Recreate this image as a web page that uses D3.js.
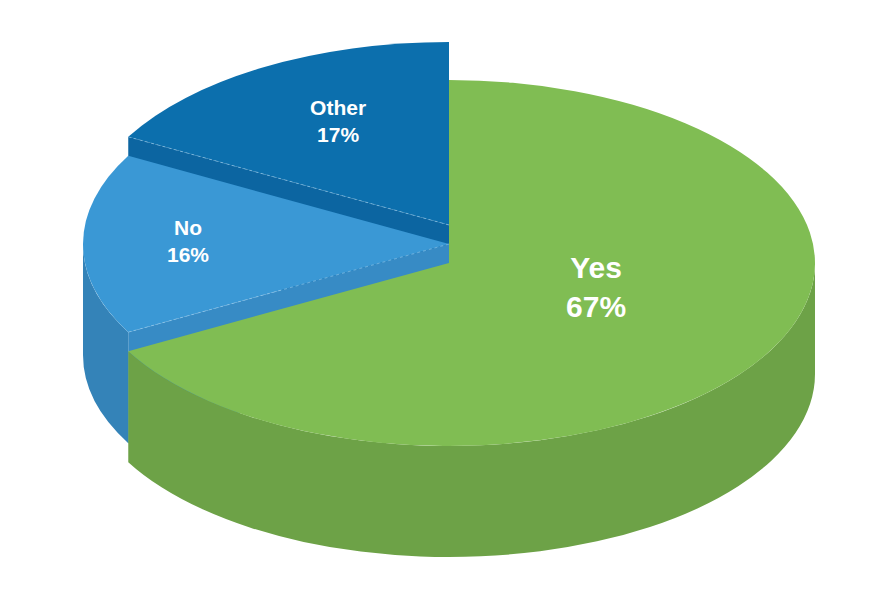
<!DOCTYPE html>
<html>
<head>
<meta charset="utf-8">
<script src="https://cdn.jsdelivr.net/npm/d3@7"></script>
<style>
  html, body { margin: 0; padding: 0; background: #ffffff; }
  svg { display: block; }
</style>
</head>
<body>
<svg id="chart" width="870" height="600"></svg>
<script>
// ---- data ----
const categories = ["Yes", "No", "Other"];
const values = [67, 16, 17];
const percentLabels = ["67%", "16%", "17%"];

// ---- style / geometry (not data) ----
const W = 870, H = 600;
const cx = 449, cy = 263, rx = 366, ry = 183, depth = 111;
const lift = { Yes: 0, No: 19, Other: 38 };
const topColor = { Yes: "#80bd53", No: "#3a98d5", Other: "#0c6fad" };
const wallColor = { Yes: "#6da247", No: "#3483b8", Other: "#0c63a0" };
const faceColor = { Yes: "#6da247", No: "#378bc5", Other: "#0c65a1" };
const labelAnchor = { Yes: [0.402, 0.082], No: [-0.713, -0.049], Other: [-0.303, -0.601] };
const labelSize = { Yes: 30, No: 21, Other: 21 };

const svg = d3.select("#chart");

const pie = d3.pie().sort(null).value(d => d.value).startAngle(0).endAngle(2 * Math.PI);
const arcs = pie(categories.map((c, i) => ({ name: c, value: values[i], pct: percentLabels[i] })));

const pt = (a, s) => [cx + rx * Math.sin(a), cy - ry * Math.cos(a) + s];

function topPath(a0, a1, s) {
  const p = d3.path();
  p.moveTo(cx, cy + s);
  const [x0, y0] = pt(a0, s);
  p.lineTo(x0, y0);
  const [x1, y1] = pt(a1, s);
  const large = (a1 - a0) > Math.PI ? 1 : 0;
  return p.toString() + `A${rx},${ry} 0 ${large} 1 ${x1},${y1}Z`;
}
function wallPath(b0, b1, s) {
  const [x0, y0] = pt(b0, s);
  const [x1, y1] = pt(b1, s);
  const [x2, y2] = pt(b1, s + depth);
  const [x3, y3] = pt(b0, s + depth);
  const large = (b1 - b0) > Math.PI ? 1 : 0;
  return `M${x0},${y0}A${rx},${ry} 0 ${large} 1 ${x1},${y1}L${x2},${y2}A${rx},${ry} 0 ${large} 0 ${x3},${y3}Z`;
}
function facePath(a, s) {
  const [x0, y0] = pt(a, s);
  return `M${cx},${cy + s}L${x0},${y0}L${x0},${y0 + depth}L${cx},${cy + s + depth}Z`;
}

// draw back to front: Other, No, Yes
const order = ["Other", "No", "Yes"];
const g = svg.append("g");
order.forEach(name => {
  const d = arcs.find(a => a.data.name === name);
  const s = -lift[name];
  const a0 = d.startAngle, a1 = d.endAngle;
  // visible radial face: start-angle face if it faces viewer (angle in left-front / left-back region)
  if (name !== "Yes") {
    g.append("path").attr("d", facePath(a0, s)).attr("fill", faceColor[name]);
  }
  // outer wall clipped to front half (PI/2 .. 3PI/2)
  const b0 = Math.max(a0, Math.PI / 2), b1 = Math.min(a1, 3 * Math.PI / 2);
  if (b1 > b0) {
    g.append("path").attr("d", wallPath(b0, b1, s)).attr("fill", wallColor[name]);
  }
  g.append("path").attr("d", topPath(a0, a1, s)).attr("fill", topColor[name]);
  // light dashed highlight along the top/face edge
  if (name !== "Yes") {
    const [x0, y0] = pt(a0, s);
    g.append("line").attr("x1", cx).attr("y1", cy + s).attr("x2", x0).attr("y2", y0)
      .attr("stroke", "#9fd0f0").attr("stroke-width", 0.8).attr("stroke-dasharray", "3,3").attr("opacity", 0.7);
  }
});

// labels
arcs.forEach(d => {
  const name = d.data.name;
  const s = -lift[name];
  const [fx, fy] = labelAnchor[name];
  const x = cx + fx * rx, y = cy + s + fy * ry;
  const fs = labelSize[name];
  const t = svg.append("text")
    .attr("x", x).attr("y", y)
    .attr("text-anchor", "middle")
    .attr("fill", "#ffffff")
    .attr("font-family", "'Liberation Sans', Arial, Helvetica, sans-serif")
    .attr("font-weight", "bold")
    .attr("font-size", fs);
  t.append("tspan").attr("x", x).text(name);
  t.append("tspan").attr("x", x).attr("dy", fs * 1.3).text(d.data.pct);
});
</script>
</body>
</html>
